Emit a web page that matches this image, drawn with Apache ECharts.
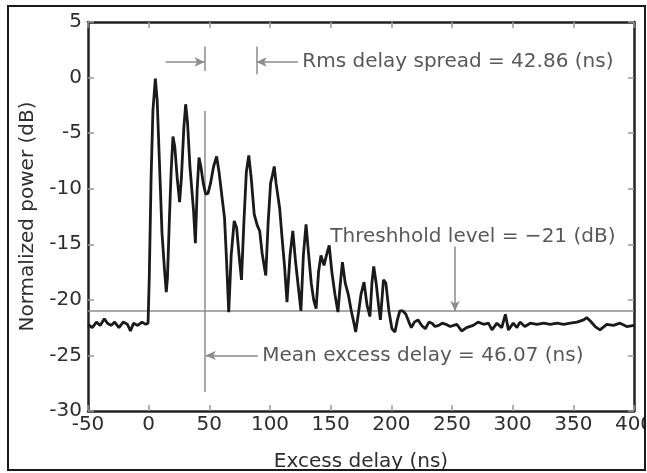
<!DOCTYPE html>
<html>
<head>
<meta charset="utf-8">
<title>Power delay profile</title>
<script src="https://cdn.jsdelivr.net/npm/echarts@6/dist/echarts.min.js"></script>
<style>
  html, body { margin: 0; padding: 0; background: #fff; }
  .frame { position: absolute; left: 7px; top: 5px; width: 635px; height: 462px; border: 2px solid #1a1a1a; overflow: hidden; }
  #chart { position: absolute; left: -9px; top: -7px; width: 647px; height: 473px; }
</style>
</head>
<body>
<div class="frame"><div id="chart"></div></div>
<script>
// excess delay (ns) / normalized power (dB)
const delayNs = [
  -50, -46.5, -43, -40, -36.5, -34, -31, -28, -24.5, -21, -17.5, -15, -12.5, -9, -5.5, -2.5, -0.5,
  0.5, 2, 3.5, 5.5, 7, 9, 11, 13, 14.5, 15.5, 17, 18.5, 20, 21.5, 23.5, 25.5, 27, 29, 30.5,
  32, 34, 35.5, 37, 38.5, 40, 41.5, 43, 45, 47, 49, 51, 53.5, 56, 58, 60.5, 62.5, 64, 66,
  68, 70.5, 72.5, 74.5, 76.5, 78.5, 80.5, 82.5, 84.5, 87, 89.5, 91.5, 93.5, 96.5, 98.5,
  100.5, 102, 103.5, 105, 108, 110, 112, 114, 116.5, 118.8, 121, 123.5, 125.5, 127.5, 129.7,
  131.5, 134, 136, 138, 140, 142, 144.5, 146.5, 148.8, 151, 153.5, 156, 158, 159.7, 162,
  164.5, 167, 169, 170.6, 172.5, 175, 177.5, 180, 182.4, 184, 185.5, 187.5, 189.5, 191,
  193.5, 195.5, 198, 200.5, 203, 205, 207, 209.5, 212, 214.5, 216.5, 219, 222, 225, 228,
  231, 233.5, 236, 239, 242, 245, 248.5, 254, 258, 262, 267.5, 271.5, 276, 280, 283, 287,
  291, 294, 296.5, 300.5, 303.5, 306, 310, 314.5, 320, 325.5, 331, 336.5, 342, 347.5, 353,
  358.5, 361, 364, 368, 372, 377.5, 383, 388.5, 394, 400
]
const powerDb = [
  -22.2, -22.5, -22.0, -22.3, -21.7, -22.1, -22.3, -22.0, -22.5, -22.0, -22.2, -22.8, -22.1, -22.3, -22.0, -22.2, -22.1,
  -18, -9, -3, -0.1, -2, -8, -14, -17.2, -19.3, -18, -13, -8.5, -5.3, -6.2, -9, -11.2, -9, -4.5, -2.4,
  -4, -8, -10, -12, -14.9, -10, -7.2, -8, -9.5, -10.5, -10.4, -9.5, -8, -7.1, -8.5, -10.8, -12.6, -16, -21.1,
  -16, -12.9, -13.5, -16, -18.2, -13, -8.5, -7.0, -9, -12.3, -13.3, -13.8, -15.8, -17.8, -13,
  -9.5, -8.8, -8.0, -9.5, -11.8, -14.5, -17, -20.2, -16, -13.8, -16.5, -19, -21.0, -16, -13.2,
  -15.5, -18.5, -20.0, -20.8, -17.5, -16.0, -16.9, -16, -15.1, -17.5, -19.5, -21.1, -18.5, -16.6, -18.5,
  -19.5, -21, -22, -22.9, -21.5, -19.5, -18.4, -20.5, -21.5, -18.5, -17, -18.5, -20.5, -21.8,
  -18.2, -18.5, -21, -22.6, -22.9, -21.8, -21.0, -21.0, -21.3, -22.0, -22.5, -22.0, -21.8, -22.3, -22.6,
  -22.0, -22.1, -22.4, -22.3, -22.1, -22.2, -22.4, -22.2, -22.8, -22.5, -22.3, -22.0, -22.2, -22.1, -22.7, -22.1,
  -22.5, -21.3, -22.7, -22.1, -22.5, -22.0, -22.4, -22.1, -22.2, -22.1, -22.2, -22.1, -22.2, -22.1, -22.0,
  -21.8, -21.6, -21.9, -22.4, -22.7, -22.2, -22.3, -22.1, -22.4, -22.3
]

const xTicks = [-50, 400, 50]
const yTicks = [-30, 5, 5]

const thresholdDb = -21
const meanDelayNs = 46.07
const rmsSpreadNs = 42.86

const rmsLabel = 'Rms delay spread = ' + rmsSpreadNs + ' (ns)'
const thresholdLabel = 'Threshhold level = \u221221 (dB)'
const meanLabel = 'Mean excess delay = ' + meanDelayNs + ' (ns)'

const textColor = '#2e2e2e'
const guideColor = '#8c8c8c'
const font = 'DejaVu Sans'

function arrow (from, to) {
  return [
    { coord: from, symbol: 'none' },
    { coord: to, symbol: 'arrow', symbolSize: [7, 10] }
  ]
}

function plain (from, to) {
  return [
    { coord: from, symbol: 'none' },
    { coord: to, symbol: 'none' }
  ]
}

function textPoint (x, y, text) {
  return { value: [x, y], label: { formatter: text } }
}

const rmsEnd = meanDelayNs + rmsSpreadNs

const chart = echarts.init(document.getElementById('chart'), null, { renderer: 'canvas' })

const valueAxis = (extra) => Object.assign({
  type: 'value',
  axisLine: { show: true, onZero: false, lineStyle: { color: '#222', width: 2.5 } },
  axisTick: { show: true, inside: true, length: 6, lineStyle: { color: '#9a9a9a', width: 1.5 } },
  splitLine: { show: false },
  axisLabel: { color: textColor, fontFamily: font, fontSize: 20 },
  nameTextStyle: { color: textColor, fontFamily: font, fontSize: 20 }
}, extra)

const option = {
  animation: false,
  backgroundColor: '#fff',
  grid: { left: 88, top: 22, right: 13, bottom: 62, outerBoundsMode: 'none', containLabel: false },
  xAxis: [
    valueAxis({
      min: xTicks[0], max: xTicks[1], interval: xTicks[2],
      name: 'Excess delay (ns)', nameLocation: 'middle', nameGap: 41,
      axisLabel: { color: textColor, fontFamily: font, fontSize: 20, margin: 4 }
    }),
    valueAxis({
      min: xTicks[0], max: xTicks[1], interval: xTicks[2], position: 'top',
      axisLabel: { show: false }
    })
  ],
  yAxis: [
    valueAxis({
      min: yTicks[0], max: yTicks[1], interval: yTicks[2],
      name: 'Normalized power (dB)', nameLocation: 'middle', nameGap: 50,
      axisLabel: { color: textColor, fontFamily: font, fontSize: 20, margin: 6 }
    }),
    valueAxis({
      min: yTicks[0], max: yTicks[1], interval: yTicks[2], position: 'right',
      axisLabel: { show: false }
    })
  ],
  series: [
    {
      type: 'line',
      data: delayNs.map((d, i) => [d, powerDb[i]]),
      symbol: 'none',
      lineStyle: { color: '#1a1a1a', width: 2.8 },
      z: 5,
      markLine: {
        silent: true,
        symbol: 'none',
        label: { show: false },
        lineStyle: { color: guideColor, width: 1.5, type: 'solid' },
        itemStyle: { color: '#333' },
        data: [
          plain([xTicks[0], thresholdDb], [xTicks[1], thresholdDb]),
          plain([meanDelayNs, -3], [meanDelayNs, -28.3]),
          plain([meanDelayNs, 2.8], [meanDelayNs, 0.6]),
          plain([rmsEnd, 2.8], [rmsEnd, 0.3]),
          arrow([14, 1.4], [meanDelayNs, 1.4]),
          arrow([123, 1.4], [rmsEnd, 1.4]),
          arrow([252.5, -15.2], [252.5, thresholdDb]),
          arrow([90, -25], [meanDelayNs + 1, -25])
        ]
      }
    },
    {
      type: 'scatter',
      symbolSize: 0,
      silent: true,
      label: {
        show: true,
        position: 'right',
        distance: 2,
        color: textColor,
        fontFamily: font,
        fontSize: 20
      },
      data: [
        textPoint(125, 1.4, rmsLabel),
        textPoint(148, -14.3, thresholdLabel),
        textPoint(92, -25, meanLabel)
      ]
    }
  ]
}

chart.setOption(option)
</script>
</body>
</html>
